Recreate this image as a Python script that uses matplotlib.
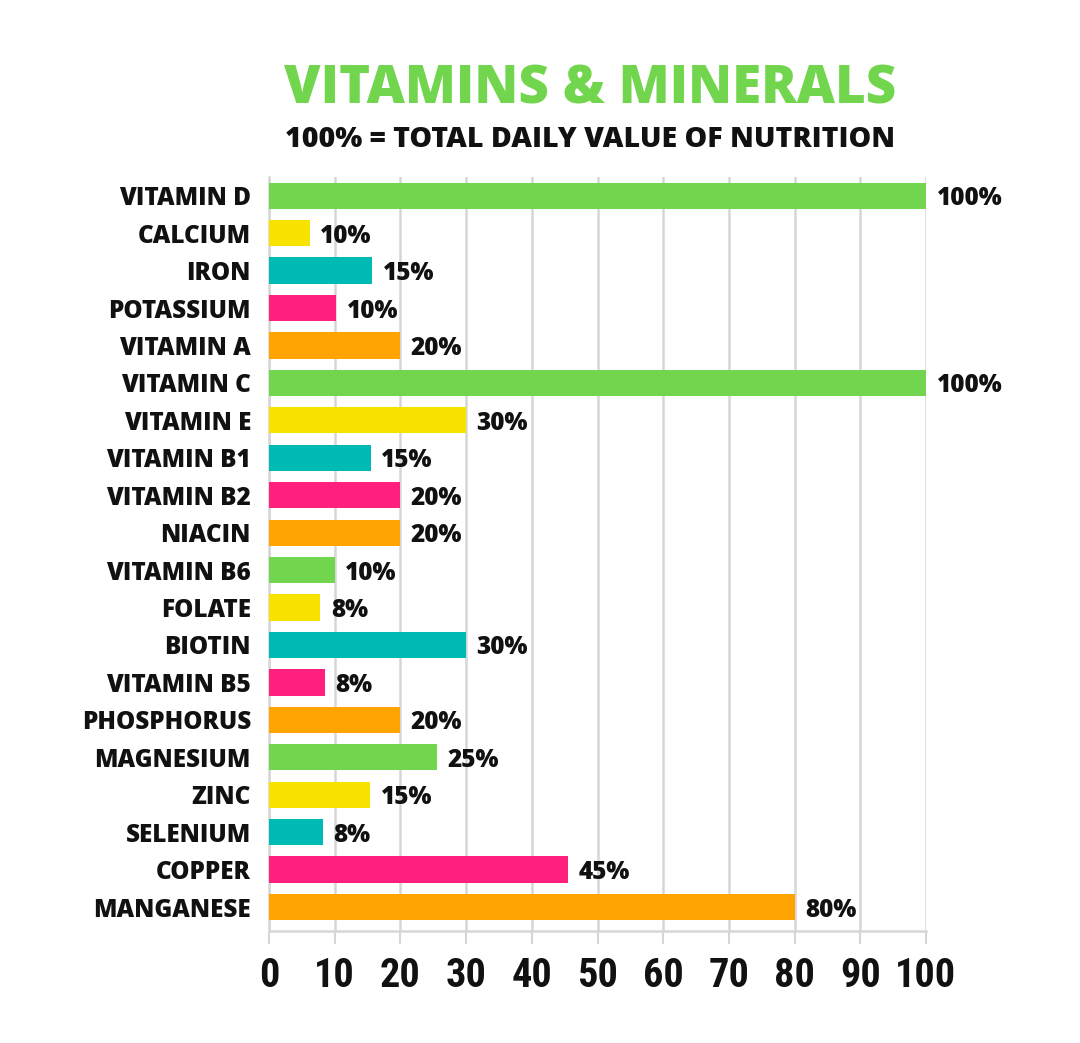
import matplotlib
matplotlib.use('Agg')
import matplotlib.pyplot as plt
from matplotlib import font_manager

# data
nutrients = ['VITAMIN D', 'CALCIUM', 'IRON', 'POTASSIUM', 'VITAMIN A', 'VITAMIN C',
             'VITAMIN E', 'VITAMIN B1', 'VITAMIN B2', 'NIACIN', 'VITAMIN B6', 'FOLATE',
             'BIOTIN', 'VITAMIN B5', 'PHOSPHORUS', 'MAGNESIUM', 'ZINC', 'SELENIUM',
             'COPPER', 'MANGANESE']
bar_values = [100, 6.2, 15.7, 10.2, 20, 100, 30, 15.5, 20, 20, 10, 7.8, 30, 8.5,
              20, 25.5, 15.4, 8.2, 45.5, 80]
value_labels = ['100%', '10%', '15%', '10%', '20%', '100%', '30%', '15%', '20%', '20%',
                '10%', '8%', '30%', '8%', '20%', '25%', '15%', '8%', '45%', '80%']
ticks = [0, 10, 20, 30, 40, 50, 60, 70, 80, 90, 100]

PALETTE = ['#72d54e', '#f9e100', '#00bab5', '#ff1f7d', '#ffa400']
GRID = '#d6d6d6'
TEXT = '#111111'

installed = {f.name for f in font_manager.fontManager.ttflist}
def pick(*names):
    return [n for n in names if n in installed] + ['DejaVu Sans']

MAIN = pick('Open Sans', 'Lato', 'Inter')
NARROW = pick('Liberation Sans Narrow', 'Roboto Condensed', 'DejaVu Sans')

fig = plt.figure(figsize=(10.8, 10.43), dpi=100)
ax = fig.add_axes([269 / 1080, 1 - 931 / 1043, 657 / 1080, 754 / 1043])

ypos = list(range(len(nutrients)))
colors = [PALETTE[i % len(PALETTE)] for i in ypos]
ax.barh(ypos, bar_values, height=0.7, color=colors, zorder=3)

for y, v, lab in zip(ypos, bar_values, value_labels):
    ax.text(v + 1.6, y, lab, va='center_baseline', ha='left', fontsize=17.5,
            fontweight='heavy', family=MAIN, color=TEXT)

ax.set_xlim(0, 100)
ax.set_ylim(len(nutrients) - 0.36, -0.5)
ax.set_yticks(ypos)
ax.set_yticklabels(nutrients, family=MAIN, fontweight='heavy', fontsize=17.5, color=TEXT)
ax.tick_params(axis='y', length=0, pad=13)
ax.set_xticks(ticks)
ax.set_xticklabels([str(t) for t in ticks], family=NARROW, fontweight='bold',
                   fontsize=29, color=TEXT)
ax.tick_params(axis='x', length=9, width=1.5, color=GRID, pad=10)

ax.grid(axis='x', color=GRID, linewidth=1.8, zorder=0)
for side in ['top', 'right']:
    ax.spines[side].set_visible(False)
ax.spines['left'].set_color(GRID)
ax.spines['bottom'].set_color(GRID)
ax.spines['left'].set_linewidth(1.8)
ax.spines['bottom'].set_linewidth(1.8)

fig.text(590 / 1080, 1 - 84 / 1043, 'VITAMINS & MINERALS', ha='center',
         va='center_baseline', fontsize=38, fontweight='heavy', family=MAIN,
         color='#72d54e')
fig.text(590 / 1080, 1 - 136 / 1043, '100% = TOTAL DAILY VALUE OF NUTRITION',
         ha='center', va='center_baseline', fontsize=20.5, fontweight='heavy',
         family=MAIN, color=TEXT)

fig.savefig('out.png', dpi=100, facecolor='white')
